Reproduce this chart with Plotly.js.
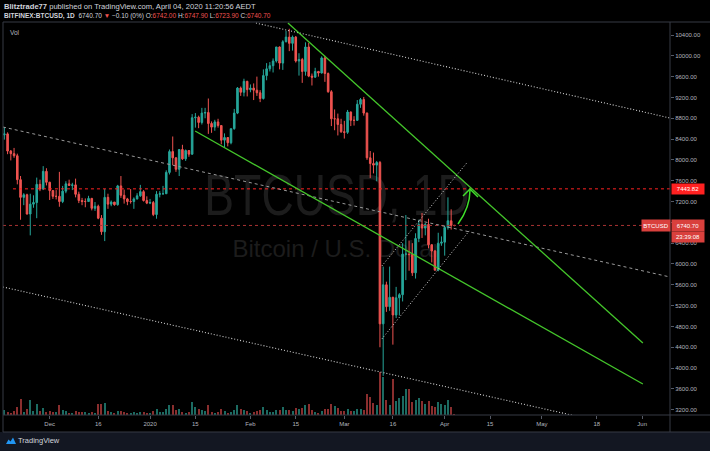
<!DOCTYPE html>
<html><head><meta charset="utf-8">
<script src="https://cdn.plot.ly/plotly-3.0.1.min.js"></script>
<style>
html,body{margin:0;padding:0;background:#000;width:710px;height:451px;overflow:hidden;}
#wrap{position:relative;width:710px;height:451px;}
#foot{position:absolute;left:0;top:432px;width:710px;height:19px;background:#131722;}
#foot span{position:absolute;left:18px;top:4px;font:7.5px 'Liberation Sans',Arial,sans-serif;color:#d1d4dc;line-height:10px;}
#foot svg{position:absolute;}
.wm{position:absolute;left:3px;width:667px;text-align:center;color:#1c1c1c;font-family:'Liberation Sans',Arial,sans-serif;line-height:1;white-space:nowrap;}
#wm1{top:166px;font-size:58px;transform:scaleX(0.77);transform-origin:336px 0;}
#wm2{top:237px;font-size:24px;}
#chart{position:absolute;left:0;top:0;width:710px;height:451px;}
</style></head>
<body><div id="wrap">
<div id="foot"><svg width="12" height="9" viewBox="0 0 12 9" style="left:5px;top:4px"><path d="M1 8 L3.5 3.5 L5.5 5.5 L8 1.5 L11 8 Z" fill="#2196f3"/></svg><span>TradingView</span></div>
<div class="wm" id="wm1">BTCUSD, 1D</div>
<div class="wm" id="wm2">Bitcoin / U.S. Dollar</div>
<div id="chart"></div>
</div>
<script>
// ---- data: BITFINEX:BTCUSD daily, 2019-11-17 .. 2020-04-04 ----
const firstDay = '2019-11-17';
const open = [
 8480,8500,8170,8120,8080,7620,7280,7330,6960,7150,7180,7530,7440,7780,
 7570,7410,7300,7300,7200,7400,7540,7510,7520,7340,7220,7200,7200,7260,7070,7110,6880,6620,7280,7150,7190,7140,7500,7320,7250,7200,7200,7250,7310,7390,7220,
 7170,7180,6950,7340,7350,7350,7760,8160,8040,7820,8200,8020,8180,8110,8810,8820,8720,8900,8910,8700,8630,8730,8660,8380,8430,8330,8600,8900,9380,9300,9510,
 9350,9380,9340,9290,9180,9620,9750,9810,9900,10170,9860,10270,10360,10240,10360,9900,9930,9700,10170,9610,9590,9700,9670,9960,9660,9310,8790,8790,8680,
 8540,8530,8920,8760,8760,9070,9160,8900,8040,7930,7900,7950,4850,5600,5180,5360,5020,5350,5410,6190,6190,6180,5830,6490,6760,6690,6760,6370,6250,5880,6400,
 6420,6700,6830,6742.0];
const high = [
 8630,8530,8190,8230,8120,7690,7360,7350,7350,7320,7660,7620,7880,7840,
 7580,7420,7420,7770,7500,7590,7620,7560,7640,7390,7270,7260,7310,7270,7190,7140,6940,7440,7350,7220,7190,7520,7690,7430,7270,7440,7280,7360,7520,7420,7300,
 7250,7210,7400,7400,7500,7800,8200,8450,8050,8200,8290,8200,8190,8880,8900,8850,9000,9000,9180,8740,8770,8790,8670,8510,8440,8600,8980,9400,9410,9560,9520,
 9450,9470,9600,9340,9740,9860,9880,9950,10170,10180,10300,10480,10520,10390,10380,10050,9960,10260,10250,9660,9770,9710,9990,10000,9680,9340,8970,8890,8790,
 8750,8960,8930,8840,9150,9190,9210,8910,8170,8140,7980,7980,5950,5660,5950,5370,5560,5440,6400,6940,6450,6400,6590,6850,6980,6790,6870,6380,6270,6600,6530,
 6740,7280,7050,6747.9];
const low = [
 8390,8110,7990,8040,7530,6850,7130,6950,6550,7080,6880,7400,7420,7510,
 7230,7250,7240,7100,7170,7360,7500,7420,7280,7170,7130,7090,7200,7030,7020,6860,6560,6440,7060,7110,7120,7120,7270,7160,7130,7160,7060,7240,7290,7200,7150,
 7150,6920,6870,7280,7330,7350,7720,7900,7770,7690,8000,7980,8060,8100,8620,8610,8680,8800,8500,8520,8560,8620,8300,8240,8260,8300,8580,8880,9230,9220,9220,
 9300,9150,9230,9110,9160,9530,9700,9680,9870,9740,9730,10260,10090,10100,9870,9620,9480,9620,9590,9430,9580,9600,9660,9500,9290,8650,8570,8470,8520,
 8410,8500,8650,8660,8750,9000,8850,8000,7650,7740,7590,4400,3850,5080,5100,4450,4960,5010,5280,5690,5870,5770,5720,6420,6500,6550,6300,6030,5880,5860,6350,
 6160,6660,6660,6723.9];
const close = [
 8500,8170,8120,8080,7620,7280,7330,6960,7150,7180,7530,7440,7780,7570,
 7410,7300,7300,7200,7400,7540,7510,7520,7340,7220,7200,7200,7260,7070,7110,6880,6620,7280,7150,7190,7140,7500,7320,7250,7200,7200,7250,7310,7390,7220,7170,
 7180,6950,7340,7350,7350,7760,8160,8040,7820,8200,8020,8180,8110,8810,8820,8720,8900,8910,8700,8630,8730,8660,8380,8430,8330,8600,8900,9380,9300,9510,9350,
 9380,9340,9290,9180,9620,9750,9810,9900,10170,9860,10270,10360,10240,10360,9900,9930,9700,10170,9610,9590,9700,9670,9960,9660,9310,8790,8790,8680,8540,
 8530,8920,8760,8760,9070,9160,8900,8040,7930,7900,7950,4850,5600,5180,5360,5020,5350,5410,6190,6190,6180,5830,6490,6760,6690,6760,6370,6250,5880,6400,6420,
 6700,6830,6740.8,6740.7];
// volume, thousands of BTC
const volume = [
 7,5,3,6,12,24,5,9,22,6,16,6,10,5,
 6,5,5,15,8,6,3,3,6,5,5,5,3,5,3,16,16,18,6,5,3,6,6,5,3,3,5,3,5,5,3,
 3,6,9,5,5,9,15,15,8,9,5,3,5,20,12,9,8,6,15,5,3,5,9,6,3,5,8,15,9,8,6,
 3,5,6,8,12,8,5,5,8,8,12,8,8,6,11,9,11,15,17,8,5,3,6,9,9,17,14,11,6,
 6,9,6,6,9,9,8,32,27,18,15,65,57,23,15,54,21,26,29,39,39,20,23,26,21,17,21,14,12,20,17,
 15,23,12,1.5];
const xTickDates = ['2019-12-01','2019-12-16','2020-01-01','2020-01-15','2020-02-01','2020-02-15','2020-03-01','2020-03-16','2020-04-01','2020-04-15','2020-05-01','2020-05-18','2020-06-01'];
const xTickText = ['Dec','16','2020','15','Feb','15','Mar','16','Apr','15','May','18','Jun'];
const yTickVals = [3200,3600,4000,4400,4800,5200,5600,6000,6400,6800,7200,7600,8000,8400,8800,9200,9600,10000,10400];
const alertLevel = 7443.82;
const lastPrice = 6740.70;

// ---- build ----
const d0 = Date.parse(firstDay + 'T00:00:00Z');
const dates = close.map((_, i) => new Date(d0 + i * 86400000).toISOString().slice(0, 10));
const upC = '#26a69a', dnC = '#ef5350';
const volColors = close.map((c, i) => c >= open[i] ? '#1c6b62' : '#8a2e2e');

const X0 = '2019-11-16 14:00', X1 = '2020-06-09 14:00';
const YR = [3098, 10650];
const Lm = 3, Tm = 22, W = 667, H = 393;
const px = x => (x - Lm) / W, py = y => (Tm + H - y) / H;
const P = (x, y) => px(x).toFixed(5) + ',' + py(y).toFixed(5);

const traces = [
  {type: 'bar', x: dates, y: volume, yaxis: 'y', marker: {color: volColors, line: {width: 0}},
   width: 0.62 * 86400000, hoverinfo: 'skip'},
  {type: 'candlestick', x: dates, open, high, low, close, yaxis: 'y2',
   increasing: {line: {color: upC, width: 1}, fillcolor: upC},
   decreasing: {line: {color: dnC, width: 1}, fillcolor: dnC},
   whiskerwidth: 0, hoverinfo: 'skip'}
];

function seg(x0, y0, x1, y1, color, width, dash) {
  return {type: 'line', xref: 'x', yref: 'y2', x0, y0, x1, y1, line: {color, width, dash}, layer: 'above'};
}
function pseg(a, b, color, w) {
  return {type: 'line', xref: 'paper', yref: 'paper', x0: px(a[0]), y0: py(a[1]), x1: px(b[0]), y1: py(b[1]),
          line: {color, width: w}, layer: 'above'};
}
const green = '#44c62b', border = '#363a45', dotW = '#d4d4d4';
const shapes = [
  seg('2019-11-19 16:00', alertLevel, X1, alertLevel, '#ff2222', 1, 'dot'),
  seg(X0, lastPrice, X1, lastPrice, '#a83232', 1, 'dot'),
  seg(X0, 8632, X1, 5750, '#9a9a9a', 1, '3px,3px'),
  seg('2020-02-02 17:00', 10630, X1, 8805, dotW, 1.1, '1px,2px'),
  seg(X0, 5558, X1, 2671, dotW, 1.1, '1px,2px'),
  seg('2020-02-12 14:00', 10630, '2020-06-01 05:00', 4482, green, 1.3, 'solid'),
  seg('2020-01-14 22:00', 8555, '2020-06-01 05:00', 3694, green, 1.3, 'solid'),
  seg('2020-03-12 14:00', 5961, '2020-04-07 19:00', 7940, dotW, 1, '1px,2px'),
  seg('2020-03-12 14:00', 4558, '2020-04-08 19:00', 6653, dotW, 1, '1px,2px'),
  {type: 'path', xref: 'paper', yref: 'paper', path: 'M' + P(458, 224) + ' Q' + P(470, 207.5) + ' ' + P(470, 190),
   line: {color: '#3fe02b', width: 1.5}, layer: 'above'},
  {type: 'path', xref: 'paper', yref: 'paper', path: 'M' + P(463, 196) + ' L' + P(470, 189) + ' L' + P(478, 197),
   line: {color: '#3fe02b', width: 1.5}, layer: 'above'},
  pseg([3, 22], [710, 22], border, 1),
  pseg([3, 22], [3, 432], border, 1),
  pseg([3, 415], [710, 415], border, 1),
  pseg([670, 22], [670, 432], border, 1),
  pseg([3, 432], [710, 432], border, 1)
];

const hdrFont1 = {family: 'Liberation Sans', size: 7.6, color: '#d1d4dc'};
const hdrFont2 = {family: 'Liberation Sans', size: 6.5, color: '#d1d4dc'};
const red = '#ef5350';
function lbl(x, y, text, bg, w, h) {
  return {xref: 'paper', yref: 'paper', x: px(x), y: py(y), xanchor: 'left', yanchor: 'middle', text,
          showarrow: false, bgcolor: bg, width: w, height: h, borderpad: 0,
          font: {family: 'Liberation Sans', size: 6, color: '#ffffff'}};
}
const annotations = [
  {xref: 'paper', yref: 'paper', x: px(2), y: py(6.5), xanchor: 'left', yanchor: 'middle', showarrow: false,
   text: '<b>Blitztrade77</b> published on TradingView.com, April 04, 2020 11:20:56 AEDT', font: hdrFont1},
  {xref: 'paper', yref: 'paper', x: px(2), y: py(16), xanchor: 'left', yanchor: 'middle', showarrow: false,
   text: '<b>BITFINEX:BTCUSD, 1D</b>&nbsp; 6740.70 <span style="color:' + red + '">▼</span> −0.10 (0%) O:<span style="color:' + red + '">6742.00</span> H:<span style="color:' + red + '">6747.90</span> L:<span style="color:' + red + '">6723.90</span> C:<span style="color:' + red + '">6740.70</span>',
   font: hdrFont2},
  {xref: 'paper', yref: 'paper', x: px(8), y: py(32.5), xanchor: 'left', yanchor: 'middle', showarrow: false,
   text: 'Vol', font: {family: 'Liberation Sans', size: 6.5, color: '#b2b5be'}},
  lbl(671, 188.5, alertLevel.toFixed(2), '#ff2121', 32, 10),
  lbl(641, 225.5, 'BTCUSD', '#d9403d', 28, 11),
  lbl(671, 225.5, lastPrice.toFixed(2), '#d9403d', 32, 11),
  lbl(671, 237, '23:39:08', '#d9403d', 32, 10)
];

const layout = {
  width: 710, height: 451,
  margin: {l: Lm, r: 710 - Lm - W, t: Tm, b: 451 - Tm - H, pad: 0},
  paper_bgcolor: 'rgba(0,0,0,0)', plot_bgcolor: 'rgba(0,0,0,0)',
  showlegend: false, dragmode: false, bargap: 0,
  font: {family: 'Liberation Sans', color: '#b2b5be'},
  xaxis: {type: 'date', range: [X0, X1], showgrid: false, zeroline: false, showline: false,
          tickmode: 'array', tickvals: xTickDates, ticktext: xTickText, ticks: 'outside', ticklen: 3,
          tickcolor: '#555a66', tickfont: {size: 6, color: '#b2b5be'}, rangeslider: {visible: false}, fixedrange: true},
  yaxis: {range: [0, 589.5], visible: false, fixedrange: true},
  yaxis2: {overlaying: 'y', side: 'right', range: YR, showgrid: false, zeroline: false, showline: false,
           tickmode: 'array', tickvals: yTickVals,
           ticktext: yTickVals.map(v => Math.abs(v - lastPrice) < 120 ? '' : v.toFixed(2)),
           ticks: 'outside', ticklen: 3, tickcolor: '#555a66', tickfont: {size: 6, color: '#b2b5be'}, fixedrange: true},
  shapes, annotations
};
Plotly.newPlot('chart', traces, layout, {displayModeBar: false, staticPlot: true});
</script>
</body></html>
